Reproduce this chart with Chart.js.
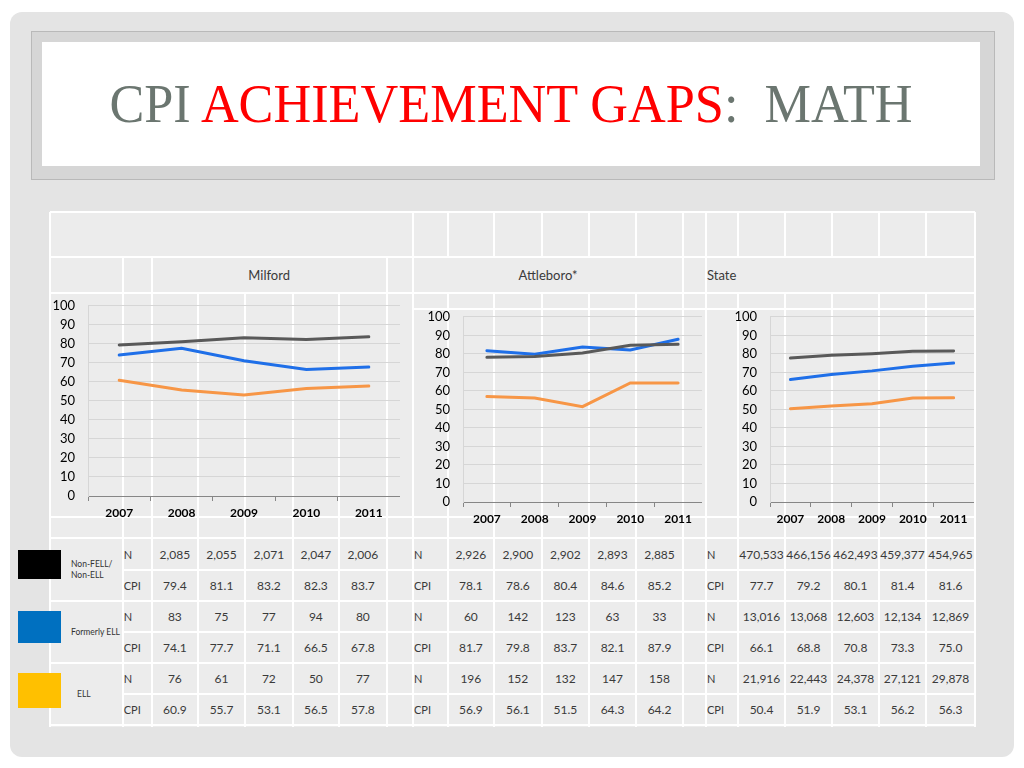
<!DOCTYPE html>
<html>
<head>
<meta charset="utf-8">
<script src="https://cdn.jsdelivr.net/npm/chart.js@4.4.1/dist/chart.umd.min.js"></script>
<style>
  body { margin: 0; width: 1024px; height: 768px; background: #fff; position: relative; overflow: hidden; font-family: Lato, sans-serif; }
  .abs { position: absolute; }
  #slide { left: 10px; top: 12px; width: 1004px; height: 745px; background: #e4e4e4; border-radius: 12px; }
  #frame { left: 31px; top: 31px; width: 964px; height: 149px; background: #d6d6d6; border: 1px solid #b9b9b9; box-sizing: border-box; }
  #titlebox { left: 42px; top: 42px; width: 938px; height: 124px; background: #fff; }
  #title { left: 42px; width: 938px; top: 76px; text-align: center; font-family: "Liberation Serif", serif; font-size: 55px; line-height: 55px; color: #6b7670; white-space: pre; transform: scaleX(0.95); }
  #title .red { color: #ff0000; }
  #table { left: 50px; top: 212px; width: 925px; height: 515px; background: #ececec; }
  .ln { position: absolute; background: #fff; }
  .cell { position: absolute; display: flex; align-items: center; font-size: 12px; color: #3a3a3a; white-space: nowrap; box-sizing: border-box; }
  .grp { font-size: 8.5px; line-height: 11px; color: #333; }
  .sw { position: absolute; }
  canvas { position: absolute; z-index: 2; }
</style>
</head>
<body>
<div id="slide" class="abs"></div>
<div id="frame" class="abs"></div>
<div id="titlebox" class="abs"></div>
<div id="title" class="abs">CPI <span class="red">ACHIEVEMENT GAPS</span>:  MATH</div>
<div id="table" class="abs"></div>

<canvas id="milfordChart" width="360" height="241" style="left:40px;top:285px"></canvas>
<canvas id="attleboroChart" width="287" height="236" style="left:415px;top:296px"></canvas>
<canvas id="stateChart" width="252" height="236" style="left:722px;top:296px"></canvas>

<script>
// years / groups
const years = ["2007", "2008", "2009", "2010", "2011"];
const groupNames = ["Non-FELL/\nNon-ELL", "Formerly ELL", "ELL"];
const groupColors = ["#000000", "#0070c0", "#ffc000"];
const lineColors = ["#595959", "#1f6fe8", "#f79646"];

// Milford
const milfordN_nonEll = [2085, 2055, 2071, 2047, 2006];
const milfordCpi_nonEll = [79.4, 81.1, 83.2, 82.3, 83.7];
const milfordN_fell = [83, 75, 77, 94, 80];
const milfordCpi_fell = [74.1, 77.7, 71.1, 66.5, 67.8];
const milfordN_ell = [76, 61, 72, 50, 77];
const milfordCpi_ell = [60.9, 55.7, 53.1, 56.5, 57.8];

// Attleboro
const attleboroN_nonEll = [2926, 2900, 2902, 2893, 2885];
const attleboroCpi_nonEll = [78.1, 78.6, 80.4, 84.6, 85.2];
const attleboroN_fell = [60, 142, 123, 63, 33];
const attleboroCpi_fell = [81.7, 79.8, 83.7, 82.1, 87.9];
const attleboroN_ell = [196, 152, 132, 147, 158];
const attleboroCpi_ell = [56.9, 56.1, 51.5, 64.3, 64.2];

// State
const stateN_nonEll = [470533, 466156, 462493, 459377, 454965];
const stateCpi_nonEll = [77.7, 79.2, 80.1, 81.4, 81.6];
const stateN_fell = [13016, 13068, 12603, 12134, 12869];
const stateCpi_fell = [66.1, 68.8, 70.8, 73.3, 75.0];
const stateN_ell = [21916, 22443, 24378, 27121, 29878];
const stateCpi_ell = [50.4, 51.9, 53.1, 56.2, 56.3];

// table layout (pixel positions of the slide table)
const hLines = [[212, 50, 975], [257, 50, 975], [293, 50, 975], [309, 413, 975], [517, 50, 975],
  [538, 50, 975], [570, 122.7, 975], [601, 50, 975], [632, 122.7, 975], [663, 50, 975],
  [694, 122.7, 975], [725, 50, 975]];
const vLines = [[50, 212, 727], [122.7, 257, 727], [151.7, 257, 727], [386.7, 257, 727],
  [413, 212, 727], [683, 212, 727], [706, 212, 727], [975, 212, 727]];
[198, 245, 292.7, 339].forEach(x => vLines.push([x, 293, 727]));
[447.7, 494, 541.7, 589, 636, 738, 785, 832, 879, 926].forEach(x => {
  vLines.push([x, 212, 257]);
  vLines.push([x, 293, 727]);
});
const rowY = [538, 570, 601, 632, 663, 694, 725];

hLines.forEach(([y, x0, x1]) => addBox("ln", x0, y - 1, x1 - x0, 2));
vLines.forEach(([x, y0, y1]) => addBox("ln", x - 1, y0, 2, y1 - y0));

function addBox(cls, x, y, w, h, bg) {
  const d = document.createElement("div");
  d.className = cls;
  d.style.cssText += `left:${x}px;top:${y}px;width:${w}px;height:${h}px;` + (bg ? `background:${bg};` : "");
  document.body.appendChild(d);
  return d;
}

function addCell(x0, x1, y0, y1, text, align, extra) {
  const d = addBox("cell", x0, y0, x1 - x0, y1 - y0);
  d.style.justifyContent = align || "center";
  if (extra) d.style.cssText += extra;
  d.textContent = text;
  return d;
}

// group labels and swatches
const swatchY = [[550, 579], [611, 643], [673, 708]];
groupNames.forEach((g, i) => {
  addBox("sw", 18, swatchY[i][0], 43, swatchY[i][1] - swatchY[i][0], groupColors[i]);
  const c = addCell(50, 122.7, rowY[i * 2], rowY[i * 2 + 2], "", "flex-start",
    "padding-left:" + (i === 2 ? 27 : 21) + "px;");
  const s = document.createElement("div");
  s.className = "grp";
  s.style.whiteSpace = "pre";
  s.textContent = g;
  c.appendChild(s);
});

// district headers
addCell(151.7, 386.7, 257, 293, "Milford", "center", "font-size:13px;");
addCell(413, 683, 257, 293, "Attleboro*", "center", "font-size:13px;");
addCell(706, 975, 257, 293, "State", "flex-start", "font-size:13px;padding-left:1px;");

const fmtN = v => v.toLocaleString("en-US");
const fmtC = v => v.toFixed(1);

const districts = [
  { labelX: 122.7, cols: [151.7, 198, 245, 292.7, 339, 386.7],
    rows: [milfordN_nonEll, milfordCpi_nonEll, milfordN_fell, milfordCpi_fell, milfordN_ell, milfordCpi_ell] },
  { labelX: 413, cols: [447.7, 494, 541.7, 589, 636, 683],
    rows: [attleboroN_nonEll, attleboroCpi_nonEll, attleboroN_fell, attleboroCpi_fell, attleboroN_ell, attleboroCpi_ell] },
  { labelX: 706, cols: [738, 785, 832, 879, 926, 975],
    rows: [stateN_nonEll, stateCpi_nonEll, stateN_fell, stateCpi_fell, stateN_ell, stateCpi_ell] }
];

districts.forEach(d => {
  d.rows.forEach((vals, r) => {
    const isN = r % 2 === 0;
    addCell(d.labelX, d.cols[0], rowY[r], rowY[r + 1], isN ? "N" : "CPI", "flex-start", "padding-left:1px;font-size:11px;");
    vals.forEach((v, k) => {
      addCell(d.cols[k], d.cols[k + 1], rowY[r], rowY[r + 1], isN ? fmtN(v) : fmtC(v), "center");
    });
  });
});

// charts
function makeChart(id, series) {
  return new Chart(document.getElementById(id), {
    type: "line",
    data: {
      labels: years,
      datasets: series.map((s, i) => ({
        data: s,
        borderColor: lineColors[i],
        backgroundColor: "transparent",
        fill: false,
      })),
    },
    options: {
      responsive: false,
      animation: false,
      layout: { padding: { top: 10, left: 0, right: 0, bottom: 0 } },
      elements: { point: { radius: 0 }, line: { borderWidth: 3, tension: 0, borderCapStyle: "round" } },
      plugins: { legend: { display: false }, tooltip: { enabled: false } },
      scales: {
        x: {
          offset: true,
          grid: { offset: true, drawOnChartArea: false, drawTicks: true, tickLength: 5, color: "#868686" },
          border: { color: "#868686" },
          ticks: { color: "#000", padding: 5, maxRotation: 0, autoSkip: false,
            font: { family: "Lato", size: 12, weight: "bold" } },
          afterFit: s => { s.height = 30; },
        },
        y: {
          min: 0,
          max: 100,
          grid: { color: "#d6d6d6", drawTicks: false },
          border: { color: "#d6d6d6" },
          ticks: { stepSize: 10, autoSkip: false, color: "#000", padding: 13, font: { family: "Lato", size: 13 } },
          afterFit: s => { s.width = 48; },
        },
      },
    },
  });
}

makeChart("milfordChart", [milfordCpi_nonEll, milfordCpi_fell, milfordCpi_ell]);
makeChart("attleboroChart", [attleboroCpi_nonEll, attleboroCpi_fell, attleboroCpi_ell]);
makeChart("stateChart", [stateCpi_nonEll, stateCpi_fell, stateCpi_ell]);
</script>
</body>
</html>
